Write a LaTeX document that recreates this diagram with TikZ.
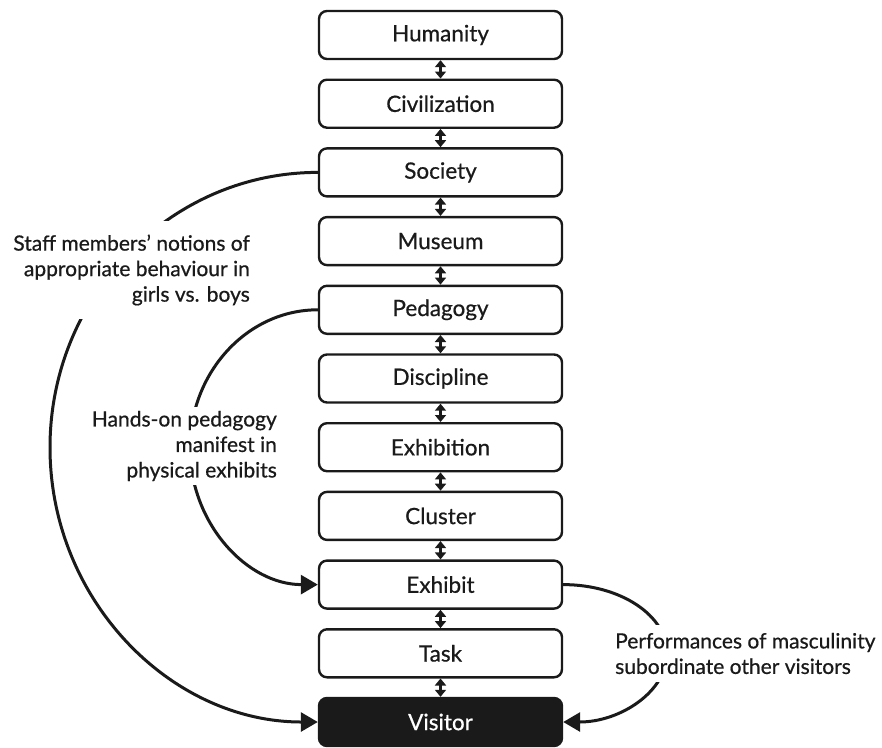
\documentclass[tikz,border=0pt]{standalone}
\usepackage{fontspec}
\setmainfont{Lato}
\newfontfamily\medfont{Lato}[FakeBold=0.6]
\usetikzlibrary{arrows.meta}
\definecolor{ink}{HTML}{1A1A1A}
\begin{document}
\begin{tikzpicture}[x=1pt,y=-1pt,
  level/.style={draw=ink, line width=2.4pt, rounded corners=8pt,
    minimum width=243pt, minimum height=48pt, text=ink,
    font=\medfont\fontsize{22.5}{26}\selectfont},
  focus/.style={level, fill=ink, text=white},
  link/.style={draw=ink, line width=2.2pt,
    {Triangle[width=11pt,length=7pt]}-{Triangle[width=11pt,length=7pt]}},
  influence/.style={draw=ink, line width=3pt, -{Triangle[width=19pt,length=17pt]}},
  note/.style={fill=white, text=ink, inner xsep=2pt,
    font=\medfont\fontsize{21}{25.5}\selectfont}]
\useasboundingbox (0,0) rectangle (882,747);

% the nested levels, from the widest context down to the visitor
\foreach \name/\lab [count=\i from 0] in {humanity/Humanity, civilization/Civilization,
    society/Society, museum/Museum, pedagogy/Pedagogy, discipline/Discipline,
    exhibition/Exhibition, cluster/Cluster, exhibit/Exhibit, task/Task}
  \node[level] (\name) at (440.5, 35+68.7*\i) {\lab};
\node[focus] (visitor) at (440.5, 35+68.7*10) {Visitor};

% two-way links between neighbouring levels
\foreach \a/\b in {humanity/civilization, civilization/society, society/museum,
    museum/pedagogy, pedagogy/discipline, discipline/exhibition,
    exhibition/cluster, cluster/exhibit, exhibit/task, task/visitor}
  \draw[link] (\a.south) -- (\b.north);

% bend points of the three influence paths
\coordinate (staffbend) at (50,447.5);
\coordinate (handsbend) at (190,448);
\coordinate (perfbend) at (667,653.3);

\draw[influence] (society.west) .. controls +(-148,0) and +(0,-151.6) .. (staffbend)
  .. controls +(0,151.6) and +(-148,0) .. (visitor.west);
\draw[influence] (pedagogy.west) .. controls +(-70.7,0) and +(0,-75.5) .. (handsbend)
  .. controls +(0,75.5) and +(-70.7,0) .. (exhibit.west);
\draw[influence] (exhibit.east) .. controls +(57.4,0) and +(0,-37.9) .. (perfbend)
  .. controls +(0,37.9) and +(57.4,0) .. (visitor.east);

% labels of the influence paths
\node[note, inner ysep=14pt, align=right, anchor=east] (staff) at (252,270)
  {Staff members’ notions of\\appropriate behaviour in\\girls vs. boys};
\node[note, inner ysep=4pt, align=right, anchor=east] (hands) at (279,446)
  {Hands-on pedagogy\\manifest in\\physical exhibits};
\node[note, inner ysep=8pt, align=left, anchor=west] (perf) at (613,653.5)
  {Performances of masculinity\\subordinate other visitors};
\end{tikzpicture}
\end{document}
